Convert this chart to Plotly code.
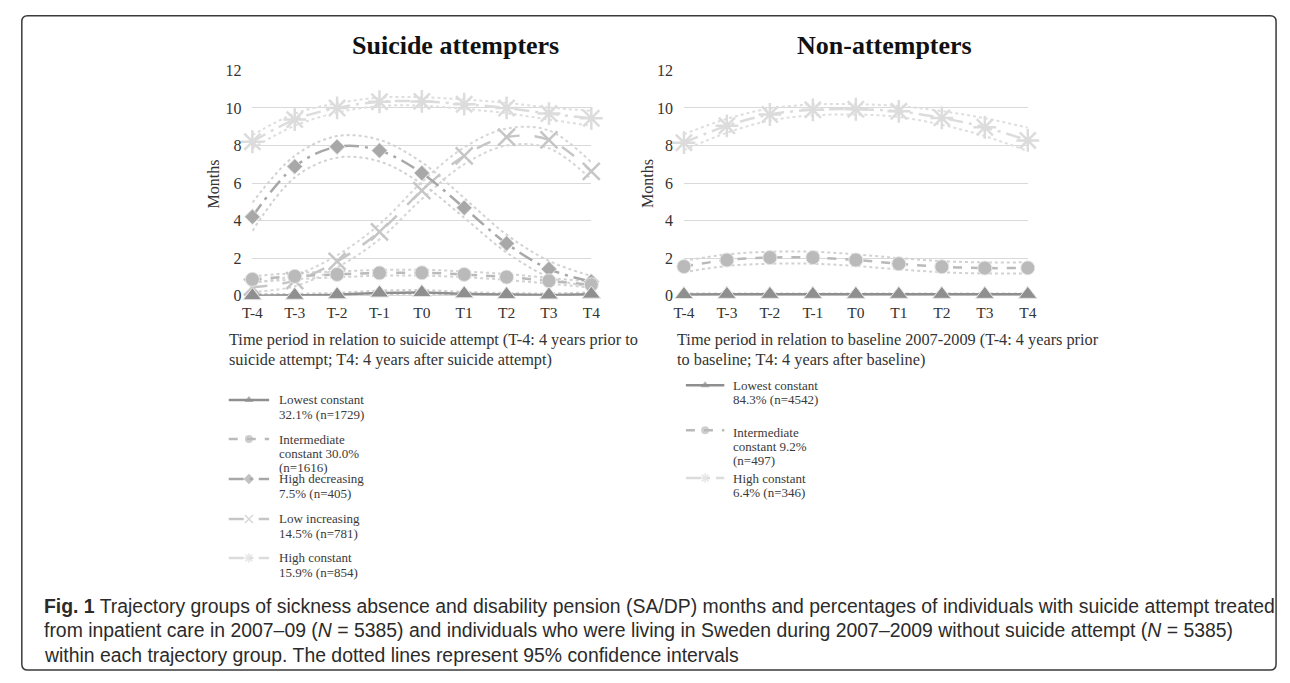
import plotly.graph_objects as go

periods = ["T-4", "T-3", "T-2", "T-1", "T0", "T1", "T2", "T3", "T4"]

# ---- Suicide attempters (months of SA/DP) ----
sa_lowest = [0.0, 0.02, 0.05, 0.14, 0.17, 0.10, 0.06, 0.04, 0.08]
sa_lowest_lo = [0.0, 0.0, 0.0, 0.06, 0.08, 0.03, 0.0, 0.0, 0.02]
sa_lowest_hi = [0.08, 0.10, 0.15, 0.27, 0.30, 0.20, 0.14, 0.12, 0.18]

sa_inter = [0.87, 1.03, 1.13, 1.21, 1.22, 1.13, 0.99, 0.79, 0.58]
sa_inter_lo = [0.70, 0.87, 0.98, 1.06, 1.07, 0.98, 0.84, 0.64, 0.43]
sa_inter_hi = [1.04, 1.20, 1.29, 1.37, 1.38, 1.29, 1.15, 0.95, 0.74]

sa_hdec = [4.20, 6.88, 7.93, 7.73, 6.53, 4.68, 2.78, 1.42, 0.75]
sa_hdec_lo = [3.45, 6.30, 7.35, 7.15, 5.95, 4.15, 2.30, 1.00, 0.45]
sa_hdec_hi = [4.95, 7.45, 8.50, 8.30, 7.10, 5.20, 3.25, 1.85, 1.05]

sa_linc = [0.45, 0.80, 1.83, 3.40, 5.60, 7.45, 8.45, 8.30, 6.62]
sa_linc_lo = [0.20, 0.50, 1.50, 3.00, 5.15, 7.00, 8.00, 7.85, 6.20]
sa_linc_hi = [0.70, 1.10, 2.15, 3.80, 6.05, 7.90, 8.90, 8.80, 7.10]

sa_hconst = [8.20, 9.38, 10.00, 10.33, 10.35, 10.20, 10.00, 9.70, 9.45]
sa_hconst_lo = [7.85, 9.05, 9.75, 10.10, 10.12, 9.95, 9.72, 9.38, 9.05]
sa_hconst_hi = [8.55, 9.70, 10.25, 10.55, 10.57, 10.45, 10.27, 10.02, 9.85]

# ---- Non-attempters ----
na_lowest = [0.06, 0.07, 0.07, 0.07, 0.07, 0.07, 0.07, 0.07, 0.07]
na_lowest_lo = [0.02, 0.03, 0.03, 0.03, 0.03, 0.03, 0.03, 0.03, 0.03]
na_lowest_hi = [0.11, 0.12, 0.12, 0.12, 0.12, 0.12, 0.12, 0.12, 0.12]

na_inter = [1.55, 1.90, 2.03, 2.03, 1.90, 1.70, 1.54, 1.47, 1.48]
na_inter_lo = [1.25, 1.58, 1.70, 1.70, 1.58, 1.40, 1.25, 1.18, 1.18]
na_inter_hi = [1.85, 2.20, 2.34, 2.34, 2.20, 2.00, 1.84, 1.77, 1.78]

na_hconst = [8.15, 9.05, 9.65, 9.90, 9.93, 9.82, 9.47, 8.97, 8.27]
na_hconst_lo = [7.75, 8.68, 9.33, 9.60, 9.65, 9.52, 9.10, 8.50, 7.70]
na_hconst_hi = [8.60, 9.42, 9.97, 10.18, 10.20, 10.10, 9.83, 9.45, 8.95]

# ---- Text ----
panel_titles = ["Suicide attempters", "Non-attempters"]
y_title = "Months"
x_titles = [
    ["Time period in relation to suicide attempt (T-4: 4 years prior to",
     "suicide attempt; T4: 4 years after suicide attempt)"],
    ["Time period in relation to baseline 2007-2009 (T-4: 4 years prior",
     "to baseline; T4: 4 years after baseline)"],
]
sa_legend = [
    ("lowest", ["Lowest constant", "32.1% (n=1729)"]),
    ("inter", ["Intermediate", "constant 30.0%", "(n=1616)"]),
    ("hdec", ["High decreasing", "7.5% (n=405)"]),
    ("linc", ["Low increasing", "14.5% (n=781)"]),
    ("hconst", ["High constant", "15.9% (n=854)"]),
]
na_legend = [
    ("lowest", ["Lowest constant", "84.3% (n=4542)"]),
    ("inter", ["Intermediate", "constant 9.2%", "(n=497)"]),
    ("hconst", ["High constant", "6.4% (n=346)"]),
]
caption_lines = [
    "<b>Fig. 1</b> Trajectory groups of sickness absence and disability pension (SA/DP) months and percentages of individuals with suicide attempt treated",
    "from inpatient care in 2007–09 (<i>N</i> = 5385) and individuals who were living in Sweden during 2007–2009 without suicide attempt (<i>N</i> = 5385)",
    "within each trajectory group. The dotted lines represent 95% confidence intervals",
]

# ---- Page geometry ----
W, H = 1290, 683


def dx(p):
    return p / W


def dy(p):
    return 1 - p / H


SERIF = "Liberation Serif, Times New Roman, serif"
styles = {
    "lowest": dict(color="#8f8f8f", ci="#cfcfcf", symbol="triangle-up", size=16, dash="solid", open=False),
    "inter": dict(color="#bababa", ci="#d2d2d2", symbol="circle", size=14, dash="dash", open=False),
    "hdec": dict(color="#a8a8a8", ci="#d2d2d2", symbol="diamond", size=12, dash="longdashdot", open=False),
    "linc": dict(color="#c6c6c6", ci="#d6d6d6", symbol="x-thin-open", size=17, dash="longdash", open=True),
    "hconst": dict(color="#dcdcdc", ci="#dedede", symbol="asterisk-open", size=19, dash="longdashdot", open=True),
}


def marker_of(st, size):
    if st["open"]:
        return dict(symbol=st["symbol"], size=size, color=st["color"],
                    line=dict(color=st["color"], width=2.5))
    return dict(symbol=st["symbol"], size=size, color=st["color"],
                line=dict(color="#e6e6e6", width=1))


fig = go.Figure()

panels = [
    ("x", "y", [("hconst", sa_hconst, sa_hconst_lo, sa_hconst_hi),
                ("linc", sa_linc, sa_linc_lo, sa_linc_hi),
                ("hdec", sa_hdec, sa_hdec_lo, sa_hdec_hi),
                ("inter", sa_inter, sa_inter_lo, sa_inter_hi),
                ("lowest", sa_lowest, sa_lowest_lo, sa_lowest_hi)]),
    ("x2", "y2", [("hconst", na_hconst, na_hconst_lo, na_hconst_hi),
                  ("inter", na_inter, na_inter_lo, na_inter_hi),
                  ("lowest", na_lowest, na_lowest_lo, na_lowest_hi)]),
]

for xa, ya, groups in panels:
    for key, v, lo, hi in groups:
        st = styles[key]
        for ci in (lo, hi):
            fig.add_trace(go.Scatter(
                x=periods, y=ci, xaxis=xa, yaxis=ya, mode="lines",
                line=dict(color=st["ci"], width=2, dash="dot", shape="spline"),
                hoverinfo="skip", showlegend=False, cliponaxis=False))
    for key, v, lo, hi in groups:
        st = styles[key]
        fig.add_trace(go.Scatter(
            x=periods, y=v, xaxis=xa, yaxis=ya, mode="lines+markers",
            line=dict(color=st["color"], width=2.5, dash=st["dash"], shape="spline"),
            marker=marker_of(st, st["size"]),
            showlegend=False, cliponaxis=False))


def add_legend(entries, x0, x1, tx, ys, ysample):
    anns = []
    for (key, lines), yb, ysm in zip(entries, ys, ysample):
        st = styles[key]
        fig.add_trace(go.Scatter(
            x=[x0, (x0 + x1) / 2, x1], y=[ysm, ysm, ysm], xaxis="x3", yaxis="y3",
            mode="lines+markers",
            line=dict(color=st["color"], width=2.5, dash=st["dash"]),
            marker=dict(symbol=st["symbol"], size=[0, 8, 0], color=st["color"],
                        line=dict(color=st["color"], width=1.5 if st["open"] else 0)),
            hoverinfo="skip", showlegend=False, cliponaxis=False))
        for i, t in enumerate(lines):
            anns.append(dict(x=tx, y=yb + i * 14.7, xref="x3", yref="y3", text=t,
                             showarrow=False, xanchor="left", yanchor="middle",
                             font=dict(family=SERIF, size=13, color="#3a3a3a")))
    return anns


annotations = []
annotations += add_legend(sa_legend, 222, 263, 271, [402, 442, 483, 524, 564], [402, 442, 483, 524, 564])
annotations += add_legend(na_legend, 686, 725, 732, [387, 435, 482], [387, 433, 482])

for xpos, t in zip((452, 888), panel_titles):
    annotations.append(dict(x=xpos, y=38, xref="x3", yref="y3", text="<b>%s</b>" % t,
                            showarrow=False, xanchor="center", yanchor="middle",
                            font=dict(family=SERIF, size=26, color="#111111")))
for xpos in (207, 647):
    annotations.append(dict(x=xpos, y=180, xref="x3", yref="y3", text=y_title, textangle=-90,
                            showarrow=False, xanchor="center", yanchor="middle",
                            font=dict(family=SERIF, size=16, color="#333333")))
for xpos, lines in zip((220, 675), x_titles):
    for i, t in enumerate(lines):
        annotations.append(dict(x=xpos, y=340 + i * 20, xref="x3", yref="y3", text=t,
                                showarrow=False, xanchor="left", yanchor="middle",
                                font=dict(family=SERIF, size=16.3, color="#333333")))
for i, t in enumerate(caption_lines):
    annotations.append(dict(x=32, y=613 + i * 25, xref="x3", yref="y3", text=t,
                            showarrow=False, xanchor="left", yanchor="middle",
                            font=dict(family="Liberation Sans, Arial, sans-serif",
                                      size=19.4, color="#2b2b2b")))

# rounded frame around the figure
bx0, by0, bx1, by1, r = 12, 8, 1285, 679, 6
border = ("M {a},{b} L {c},{b} Q {x1},{b} {x1},{d} L {x1},{e} Q {x1},{y1} {c},{y1} "
          "L {a},{y1} Q {x0},{y1} {x0},{e} L {x0},{d} Q {x0},{b} {a},{b} Z").format(
    a=bx0 + r, b=by0, c=bx1 - r, d=by0 + r, e=by1 - r, x0=bx0, x1=bx1, y1=by1)

common_x = dict(type="category", categoryorder="array", categoryarray=periods, range=[0, 8],
                showgrid=False, showline=False, zeroline=False, ticks="",
                tickfont=dict(family=SERIF, size=15.5, color="#333333"), ticklabelstandoff=6,
                fixedrange=True)
common_y = dict(range=[0, 12], dtick=2, showgrid=True, gridcolor="#d9d9d9", gridwidth=1,
                zeroline=True, zerolinecolor="#d9d9d9", zerolinewidth=1, showline=False, ticks="",
                tickfont=dict(family=SERIF, size=16, color="#333333"), ticklabelstandoff=10,
                fixedrange=True)

fig.update_layout(
    width=W, height=H, autosize=False,
    margin=dict(l=0, r=0, t=0, b=0, pad=0),
    paper_bgcolor="white", plot_bgcolor="rgba(0,0,0,0)",
    showlegend=False,
    xaxis=dict(common_x, domain=[dx(246), dx(590)], anchor="y"),
    yaxis=dict(common_y, domain=[dy(295), dy(64)], anchor="x"),
    xaxis2=dict(common_x, domain=[dx(684), dx(1033)], anchor="y2"),
    yaxis2=dict(common_y, domain=[dy(295), dy(64)], anchor="x2"),
    xaxis3=dict(domain=[0, 1], range=[0, W], visible=False, anchor="y3", fixedrange=True),
    yaxis3=dict(domain=[0, 1], range=[H, 0], visible=False, anchor="x3", fixedrange=True),
    annotations=annotations,
    shapes=[dict(type="path", path=border, xref="x3", yref="y3",
                 line=dict(color="#3a3a3a", width=1.5))],
)

fig.write_html("out.html", config={"displayModeBar": False, "staticPlot": True},
               post_script="document.body.style.margin='0';document.body.style.overflow='hidden';")
